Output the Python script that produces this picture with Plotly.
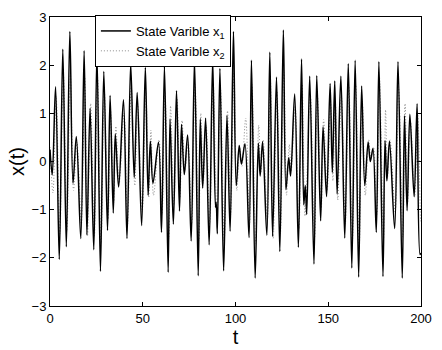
import plotly.graph_objects as go

# State variable x1 (solid): turning points
t1 = [0.0, 1.2, 3.0, 5.0, 6.9, 8.8, 10.7, 12.4, 14.2, 16.6, 18.4, 19.9, 21.6, 23.6, 25.3,
      27.2, 29.0, 31.0, 32.4, 34.1, 35.2, 37.0, 39.6, 41.5, 43.5, 45.4, 47.0, 49.4, 51.4,
      52.9, 54.1, 55.5, 58.5, 60.1, 61.7, 63.7, 64.7, 66.5, 68.2, 69.8, 70.9, 72.4, 74.2,
      76.1, 77.9, 79.9, 81.0, 82.3, 83.9, 85.8, 87.7, 89.2, 89.6, 90.2, 91.6, 93.6, 95.4,
      97.1, 98.9, 100.4, 102.0, 103.2, 105.1, 107.3, 108.6, 110.6, 112.3, 113.3, 114.6,
      116.9, 118.5, 120.0, 122.1, 123.9, 125.8, 127.2, 128.7, 129.7, 131.9, 133.9, 135.6,
      136.8, 137.6, 138.4, 140.0, 142.3, 143.8, 145.9, 147.2, 149.1, 151.0, 152.2, 153.5,
      154.8, 156.8, 158.9, 160.8, 162.7, 164.5, 166.4, 168.0, 169.7, 171.5, 172.7, 174.1,
      175.9, 177.3, 179.5, 180.6, 181.6, 183.0, 185.8, 187.6, 189.9, 191.1, 192.5, 194.0,
      196.3, 197.9, 199.5, 200.0]
x1 = [0.25, -0.28, 1.55, -2.03, 2.33, -1.77, 2.70, -0.45, 0.52, -1.60, 2.30, -1.52, 1.10, -1.83, 2.25,
      -2.28, 1.87, -1.43, 1.37, -1.07, 0.57, -0.53, 1.28, -1.60, 2.03, -0.33, 1.43, -1.33, 1.95,
      -0.70, 0.42, -0.45, 0.40, -1.47, 1.98, -2.30, 0.88, -1.30, 1.47, -1.03, 0.77, -0.27, 0.55,
      -1.65, 2.10, -2.37, 0.88, -0.55, 0.90, -1.73, 2.12, -0.95, -0.85, -1.50, 1.93, -2.27, 0.95,
      -1.45, 2.70, -0.50, 0.33, -0.05, 0.37, -1.58, 2.10, -2.42, 0.38, -0.30, 0.41,
      -1.53, 2.27, -1.55, 1.75, -1.87, 2.73, -0.58, 0.08, -0.30, 1.40, -1.78, 2.13,
      -0.90, -0.50, -1.10, 1.77, -2.13, 1.78, -1.23, 0.72, -0.73, 1.62, -0.23, 1.67,
      -0.67, 1.77, -1.59, 2.03, -2.21, 2.10, -2.40, 1.57, -0.50, 0.40, 0.00, 0.27,
      -1.47, 2.07, -2.39, 0.43, -0.40, 0.42, -1.39, 2.07, -2.42, 0.95, -1.02, 0.98,
      -0.73, 1.20, -1.93, -1.90]

# State variable x2 (dotted): turning points
t2 = [0.0, 1.6, 3.3, 5.3, 7.2, 9.1, 11.0, 12.7, 14.5, 16.9, 18.7, 20.2, 21.9, 23.9, 25.6,
      27.5, 29.3, 31.3, 32.7, 34.4, 35.5, 37.3, 39.9, 41.8, 43.8, 45.7, 47.3, 49.7, 51.7,
      53.2, 54.4, 55.8, 58.8, 60.4, 62.0, 64.0, 65.0, 66.8, 68.5, 70.1, 71.2, 72.7, 74.5,
      76.4, 78.2, 80.2, 81.3, 82.6, 84.2, 86.1, 88.0, 90.0, 91.9, 93.9, 95.7,
      97.4, 99.2, 100.7, 102.3, 103.5, 105.5, 107.6, 108.9, 110.9, 112.5, 113.6, 114.9,
      117.2, 118.8, 120.3, 122.4, 124.2, 126.1, 127.5, 129.0, 130.0, 132.2, 134.2, 135.9,
      137.5, 140.3, 142.6, 144.1, 146.2, 147.5, 149.4, 151.3, 152.5, 153.8,
      155.1, 157.1, 159.2, 161.1, 163.0, 164.8, 166.7, 168.3, 170.0, 171.8, 173.0, 174.4,
      176.2, 177.6, 179.8, 180.9, 181.9, 183.3, 186.1, 187.9, 190.2, 191.4, 192.8, 194.3,
      196.6, 198.2, 199.8, 200.0]
x2 = [0.30, -0.65, 1.35, -1.50, 1.80, -1.45, 1.80, -0.60, 0.40, -1.30, 1.75, -1.55, 1.20, -1.55, 1.75,
      -1.70, 1.45, -1.20, 1.05, -0.85, 0.73, -0.45, 1.00, -1.30, 1.55, -0.50, 1.20, -1.05, 1.45,
      -0.75, 0.65, -0.70, 0.45, -1.10, 1.45, -1.60, 1.15, -0.90, 1.30, -0.75, 0.85, -0.20, 0.40,
      -1.30, 1.60, -1.65, 1.00, -0.45, 0.75, -1.30, 1.60, -1.15, 1.50, -1.65, 1.05,
      -1.10, 1.85, -0.60, 0.30, -0.10, 0.90, -1.30, 1.60, -1.70, 0.75, -0.25, 0.45,
      -1.20, 1.70, -1.60, 1.45, -1.50, 1.85, -0.70, 0.35, -0.20, 1.15, -1.40, 1.60,
      -1.13, 1.40, -1.60, 1.40, -1.00, 0.87, -0.60, 1.20, -0.40, 1.25,
      -0.80, 1.35, -1.30, 1.55, -1.65, 1.60, -1.75, 1.30, -0.70, 0.45, 0.05, 0.30,
      -1.10, 1.75, -1.60, 1.07, -0.35, 0.45, -1.05, 1.55, -1.57, 1.20, -0.85, 0.85,
      -0.73, 1.00, -1.20, -1.25]

x_ticks = [0, 50, 100, 150, 200]
y_ticks = [-3, -2, -1, 0, 1, 2, 3]

fig = go.Figure()
fig.add_trace(go.Scatter(
    x=t2, y=x2, mode="lines", name="State Varible x<sub>2</sub>",
    line=dict(color="#8c8c8c", width=1, dash="1px,2px", shape="spline", smoothing=1.0)))
fig.add_trace(go.Scatter(
    x=t1, y=x1, mode="lines", name="State Varible x<sub>1</sub>",
    line=dict(color="black", width=1.5, shape="spline", smoothing=1.0)))

axis_common = dict(showline=True, linecolor="black", linewidth=1, mirror="ticks",
                   ticks="inside", ticklen=4, tickcolor="black", showgrid=False,
                   zeroline=False, tickfont=dict(family="Liberation Sans", size=13, color="black"))

fig.update_layout(
    width=442, height=350,
    margin=dict(l=50, r=11, t=10, b=40),
    plot_bgcolor="white", paper_bgcolor="white",
    font=dict(family="Liberation Sans", color="black"),
    showlegend=True,
    legend=dict(x=0.121, y=1.007, xanchor="left", yanchor="top",
                bgcolor="white", bordercolor="black", borderwidth=1,
                font=dict(family="Liberation Sans", size=13, color="black"),
                traceorder="reversed", tracegroupgap=0,
                itemwidth=30),
    xaxis=dict(range=[0, 200], tickvals=x_ticks,
               title=dict(text="t", font=dict(size=20), standoff=0), **axis_common),
    yaxis=dict(range=[-3, 3], tickvals=y_ticks,
               title=dict(text="x(t)", font=dict(size=20), standoff=1), **axis_common),
)

fig.write_html("out.html")
